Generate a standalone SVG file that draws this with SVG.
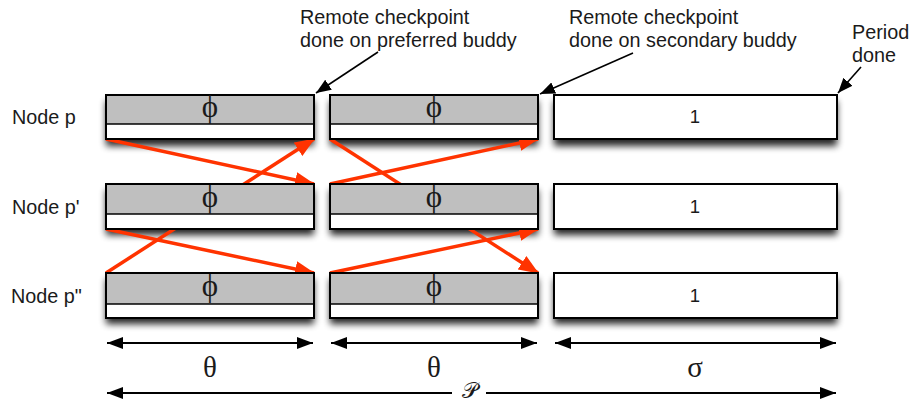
<svg xmlns="http://www.w3.org/2000/svg" width="910" height="403" viewBox="0 0 910 403">
<style>
.lbl{font-family:"Liberation Sans",Arial,sans-serif;font-size:19.8px;fill:#1a1a1a}
.one{font-family:"Liberation Sans",Arial,sans-serif;font-size:18.5px;fill:#1a1a1a;text-anchor:middle}
.sym{font-family:"Liberation Serif","DejaVu Serif",serif;fill:#1a1a1a;text-anchor:middle}
.box{stroke:#000;stroke-width:2}
.gray{fill:#bfbfbf}
.white{fill:#fff}
.div{stroke:#000;stroke-width:1.5}
.red{stroke:#ff3300;stroke-width:3.5;fill:none;marker-end:url(#redhead)}
.ann{stroke:#000;stroke-width:1.6;fill:none;marker-end:url(#annhead)}
.dim{stroke:#000;stroke-width:2.2;fill:none}
</style>
<defs>
<filter id="blur" x="-10%" y="-50%" width="120%" height="200%"><feGaussianBlur stdDeviation="3.5"/></filter>
<marker id="redhead" markerUnits="userSpaceOnUse" markerWidth="20" markerHeight="16" viewBox="0 0 20 16" refX="19" refY="8" orient="auto"><path d="M0,0 L20,8 L0,16 z" fill="#ff3300"/></marker>
<marker id="annhead" markerUnits="userSpaceOnUse" markerWidth="15" markerHeight="12" viewBox="0 0 15 12" refX="15" refY="6" orient="auto"><path d="M0,0 L15,6 L0,12 z" fill="#000"/></marker>
<marker id="dimhead" markerUnits="userSpaceOnUse" markerWidth="16" markerHeight="12" viewBox="0 0 16 12" refX="16" refY="6" orient="auto-start-reverse"><path d="M0,0 L16,6 L0,12 z" fill="#000"/></marker>
</defs>

<g id="shadows" filter="url(#blur)" fill="#000" opacity="0.85">
<rect x="106" y="101" width="208" height="45"/><rect x="330" y="101" width="208" height="45"/><rect x="554" y="101" width="283" height="45"/>
<rect x="106" y="190" width="208" height="45"/><rect x="330" y="190" width="208" height="45"/><rect x="554" y="190" width="283" height="45"/>
<rect x="106" y="279" width="208" height="45"/><rect x="330" y="279" width="208" height="45"/><rect x="554" y="279" width="283" height="45"/>
</g>

<g id="connectors">
<path class="red" d="M106,139 L314,184"/>
<path class="red" d="M106,229 L314,273"/>
<path class="red" d="M106,273 L314,139"/>
<path class="red" d="M330,139 L538,273"/>
<path class="red" d="M330,184 L538,139"/>
<path class="red" d="M330,273 L538,229"/>
</g>

<g id="node-p">
<text class="lbl" x="12" y="124">Node p</text>
<g id="p-c1"><rect class="box white" x="106" y="95" width="208" height="44"/><rect class="gray" x="107" y="96" width="206" height="28"/><line class="div" x1="106" y1="124" x2="314" y2="124"/><text class="sym" x="210" y="117" font-size="31">ϕ</text></g>
<g id="p-c2"><rect class="box white" x="330" y="95" width="208" height="44"/><rect class="gray" x="331" y="96" width="206" height="28"/><line class="div" x1="330" y1="124" x2="538" y2="124"/><text class="sym" x="434" y="117" font-size="31">ϕ</text></g>
<g id="p-c3"><rect class="box white" x="554" y="95" width="283" height="44"/><text class="one" x="695" y="123">1</text></g>
</g>

<g id="node-p1">
<text class="lbl" x="12" y="214">Node p'</text>
<g id="p1-c1"><rect class="box white" x="106" y="184" width="208" height="45"/><rect class="gray" x="107" y="185" width="206" height="29"/><line class="div" x1="106" y1="214" x2="314" y2="214"/><text class="sym" x="210" y="207" font-size="31">ϕ</text></g>
<g id="p1-c2"><rect class="box white" x="330" y="184" width="208" height="45"/><rect class="gray" x="331" y="185" width="206" height="29"/><line class="div" x1="330" y1="214" x2="538" y2="214"/><text class="sym" x="434" y="207" font-size="31">ϕ</text></g>
<g id="p1-c3"><rect class="box white" x="554" y="184" width="283" height="45"/><text class="one" x="695" y="213">1</text></g>
</g>

<g id="node-p2">
<text class="lbl" x="11" y="303">Node p"</text>
<g id="p2-c1"><rect class="box white" x="106" y="273" width="208" height="45"/><rect class="gray" x="107" y="274" width="206" height="30"/><line class="div" x1="106" y1="304" x2="314" y2="304"/><text class="sym" x="210" y="296" font-size="31">ϕ</text></g>
<g id="p2-c2"><rect class="box white" x="330" y="273" width="208" height="45"/><rect class="gray" x="331" y="274" width="206" height="30"/><line class="div" x1="330" y1="304" x2="538" y2="304"/><text class="sym" x="434" y="296" font-size="31">ϕ</text></g>
<g id="p2-c3"><rect class="box white" x="554" y="273" width="283" height="45"/><text class="one" x="695" y="302">1</text></g>
</g>

<g id="annotations">
<text class="lbl" x="300" y="24">Remote checkpoint</text>
<text class="lbl" x="300" y="47">done on preferred buddy</text>
<path class="ann" d="M378,52 L316,93"/>
<text class="lbl" x="569" y="24">Remote checkpoint</text>
<text class="lbl" x="569" y="47">done on secondary buddy</text>
<path class="ann" d="M633,53 L540,94"/>
<text class="lbl" x="852" y="39">Period</text>
<text class="lbl" x="852" y="62">done</text>
<path class="ann" d="M861,67 L838,93"/>
</g>

<g id="dimensions">
<path class="dim" d="M107,343 L313,343" marker-start="url(#dimhead)" marker-end="url(#dimhead)"/>
<path class="dim" d="M331,343 L537,343" marker-start="url(#dimhead)" marker-end="url(#dimhead)"/>
<path class="dim" d="M555,343 L836,343" marker-start="url(#dimhead)" marker-end="url(#dimhead)"/>
<text class="sym" x="210" y="377" font-size="29">θ</text>
<text class="sym" x="434" y="377" font-size="29">θ</text>
<text class="sym" x="695" y="377" font-size="29">σ</text>
<path class="dim" d="M452,393 L107,393" marker-end="url(#dimhead)"/>
<path class="dim" d="M486,393 L836,393" marker-end="url(#dimhead)"/>
<text class="sym" x="470" y="398" font-size="22" font-family="DejaVu Serif, 'Noto Sans', serif">𝒫</text>
</g>
</svg>
